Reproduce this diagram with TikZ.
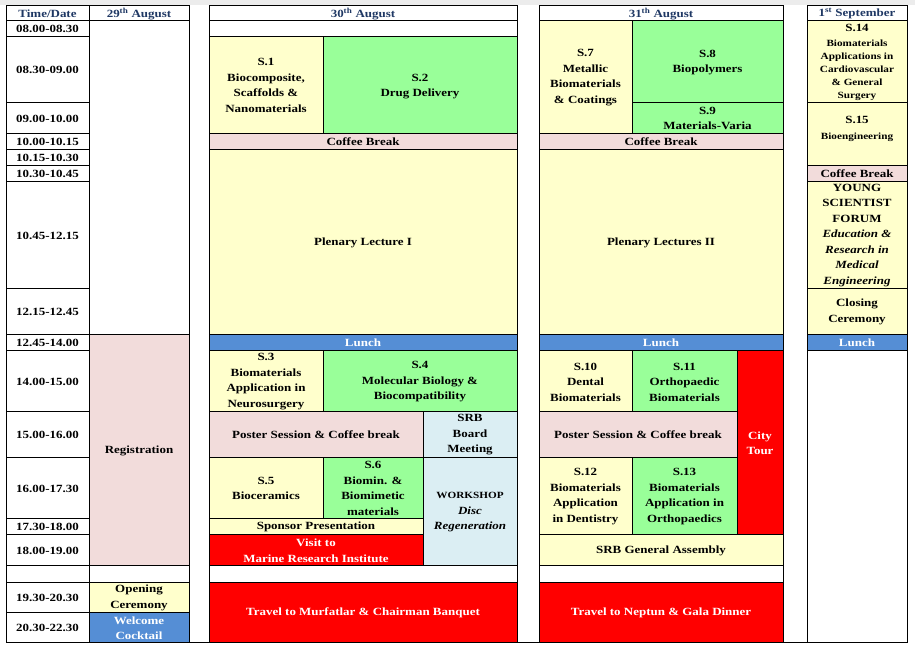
\documentclass[tikz,border=0pt]{standalone}
\usepackage{fontspec}
\setmainfont{Liberation Serif}[FakeStretch=1.18]
\definecolor{sessyellow}{HTML}{FFFFCC}
\definecolor{sessgreen}{HTML}{99FF99}
\definecolor{breakpink}{HTML}{F2DCDB}
\definecolor{lunchblue}{HTML}{558ED5}
\definecolor{eventred}{HTML}{FF0000}
\definecolor{meetblue}{HTML}{DBEEF3}
\definecolor{headnavy}{HTML}{1F3864}
\definecolor{topgray}{HTML}{ECECEC}
\tikzset{
  whitecell/.style={draw=black, line width=0.8pt, fill=white},
  yellowcell/.style={draw=black, line width=0.8pt, fill=sessyellow},
  greencell/.style={draw=black, line width=0.8pt, fill=sessgreen},
  pinkcell/.style={draw=black, line width=0.8pt, fill=breakpink},
  bluecell/.style={draw=black, line width=0.8pt, fill=lunchblue},
  redcell/.style={draw=black, line width=0.8pt, fill=eventred},
  meetcell/.style={draw=black, line width=0.8pt, fill=meetblue},
  txt/.style={font=\bfseries\fontsize{11}{15.5}\selectfont, align=center, inner sep=0pt, yshift=-1pt},
  whitetxt/.style={txt, text=white},
  headtxt/.style={txt, text=headnavy},
}
\newcommand{\smalltxt}{\fontsize{9.5}{13}\selectfont}
\begin{document}
\begin{tikzpicture}[x=1pt, y=-1pt]
\useasboundingbox (0,0) rectangle (915,645);

% Time column
\draw[whitecell] (6,5) rectangle (89,20);
\node[headtxt] (hTime) at (47.5,12.8) {Time/Date};
\draw[whitecell] (6,20) rectangle (89,36);
\node[txt] (t0800) at (47.5,28) {08.00-08.30};
\draw[whitecell] (6,36) rectangle (89,102);
\node[txt] (t0830) at (47.5,69) {08.30-09.00};
\draw[whitecell] (6,102) rectangle (89,133);
\node[txt] (t0900) at (47.5,117.5) {09.00-10.00};
\draw[whitecell] (6,133) rectangle (89,149);
\node[txt] (t1000) at (47.5,141) {10.00-10.15};
\draw[whitecell] (6,149) rectangle (89,165);
\node[txt] (t1015) at (47.5,157) {10.15-10.30};
\draw[whitecell] (6,165) rectangle (89,181);
\node[txt] (t1030) at (47.5,173) {10.30-10.45};
\draw[whitecell] (6,181) rectangle (89,288);
\node[txt] (t1045) at (47.5,234.5) {10.45-12.15};
\draw[whitecell] (6,288) rectangle (89,334);
\node[txt] (t1215) at (47.5,311) {12.15-12.45};
\draw[whitecell] (6,334) rectangle (89,350);
\node[txt] (t1245) at (47.5,342) {12.45-14.00};
\draw[whitecell] (6,350) rectangle (89,411);
\node[txt] (t1400) at (47.5,380.5) {14.00-15.00};
\draw[whitecell] (6,411) rectangle (89,457);
\node[txt] (t1500) at (47.5,434) {15.00-16.00};
\draw[whitecell] (6,457) rectangle (89,518);
\node[txt] (t1600) at (47.5,487.5) {16.00-17.30};
\draw[whitecell] (6,518) rectangle (89,534);
\node[txt] (t1730) at (47.5,526) {17.30-18.00};
\draw[whitecell] (6,534) rectangle (89,565);
\node[txt] (t1800) at (47.5,549.5) {18.00-19.00};
\draw[whitecell] (6,565) rectangle (89,582);
\draw[whitecell] (6,582) rectangle (89,612);
\node[txt] (t1930) at (47.5,597) {19.30-20.30};
\draw[whitecell] (6,612) rectangle (89,642);
\node[txt] (t2030) at (47.5,627) {20.30-22.30};

% 29th August
\draw[whitecell] (89,5) rectangle (189,20);
\node[headtxt] (hAug29) at (139,12.8) {29\textsuperscript{th} August};
\draw[whitecell] (89,20) rectangle (189,334);
\draw[pinkcell] (89,334) rectangle (189,565);
\node[txt] (reg) at (139,449.5) {Registration};
\draw[whitecell] (89,565) rectangle (189,582);
\draw[yellowcell] (89,582) rectangle (189,612);
\node[txt] (opening) at (139,597) {Opening\\Ceremony};
\draw[bluecell] (89,612) rectangle (189,642);
\node[whitetxt] (cocktail) at (139,627) {Welcome\\Cocktail};

% 30th August
\draw[whitecell] (209,5) rectangle (517,20);
\node[headtxt] (hAug30) at (363,12.8) {30\textsuperscript{th} August};
\draw[whitecell] (209,20) rectangle (517,36);
\draw[yellowcell] (209,36) rectangle (323,133);
\node[txt] (s1) at (266,84.5) {S.1\\Biocomposite,\\Scaffolds \&\\Nanomaterials};
\draw[greencell] (323,36) rectangle (517,133);
\node[txt] (s2) at (420,85.5) {S.2\\Drug Delivery};
\draw[pinkcell] (209,133) rectangle (517,149);
\node[txt] (coffeeA) at (363,141) {Coffee Break};
\draw[yellowcell] (209,149) rectangle (517,334);
\node[txt] (plenaryA) at (363,241.5) {Plenary Lecture I};
\draw[bluecell] (209,334) rectangle (517,350);
\node[whitetxt] (lunchA) at (363,342) {Lunch};
\draw[yellowcell] (209,350) rectangle (323,411);
\node[txt] (s3) at (266,380.5) {S.3\\Biomaterials\\Application in\\Neurosurgery};
\draw[greencell] (323,350) rectangle (517,411);
\node[txt] (s4) at (420,381) {S.4\\Molecular Biology \&\\Biocompatibility};
\draw[pinkcell] (209,411) rectangle (423,457);
\node[txt] (posterA) at (316,434) {Poster Session \& Coffee break};
\draw[meetcell] (423,411) rectangle (517,457);
\node[txt] (board) at (470,434) {SRB\\Board\\Meeting};
\draw[yellowcell] (209,457) rectangle (323,518);
\node[txt] (s5) at (266,487.5) {S.5\\Bioceramics};
\draw[greencell] (323,457) rectangle (423,518);
\node[txt] (s6) at (373,487.5) {S.6\\Biomin. \&\\Biomimetic\\materials};
\draw[meetcell] (423,457) rectangle (517,565);
\node[txt] (workshop) at (470,511.5) {{\smalltxt WORKSHOP}\\\itshape Disc\\\itshape Regeneration};
\draw[yellowcell] (209,518) rectangle (423,534);
\node[txt] (sponsor) at (316,526) {Sponsor Presentation};
\draw[redcell] (209,534) rectangle (423,565);
\node[whitetxt] (visit) at (316,549.5) {Visit to\\Marine Research Institute};
\draw[whitecell] (209,565) rectangle (517,582);
\draw[redcell] (209,582) rectangle (517,642);
\node[whitetxt] (banquet) at (363,612) {Travel to Murfatlar \& Chairman Banquet};

% 31th August
\draw[whitecell] (539,5) rectangle (783,20);
\node[headtxt] (hAug31) at (661,12.8) {31\textsuperscript{th} August};
\draw[yellowcell] (539,20) rectangle (632,133);
\node[txt] (s7) at (585.5,76.5) {S.7\\Metallic\\Biomaterials\\\& Coatings};
\draw[greencell] (632,20) rectangle (783,102);
\node[txt] (s8) at (707.5,61.5) {S.8\\Biopolymers};
\draw[greencell] (632,102) rectangle (783,133);
\node[txt] (s9) at (707.5,117.5) {S.9\\Materials-Varia};
\draw[pinkcell] (539,133) rectangle (783,149);
\node[txt] (coffeeB) at (661,141) {Coffee Break};
\draw[yellowcell] (539,149) rectangle (783,334);
\node[txt] (plenaryB) at (661,241.5) {Plenary Lectures II};
\draw[bluecell] (539,334) rectangle (783,350);
\node[whitetxt] (lunchB) at (661,342) {Lunch};
\draw[yellowcell] (539,350) rectangle (632,411);
\node[txt] (s10) at (585.5,381) {S.10\\Dental\\Biomaterials};
\draw[greencell] (632,350) rectangle (737,411);
\node[txt] (s11) at (684.5,381) {S.11\\Orthopaedic\\Biomaterials};
\draw[redcell] (737,350) rectangle (783,534);
\node[whitetxt] (citytour) at (760,442) {City\\Tour};
\draw[pinkcell] (539,411) rectangle (737,457);
\node[txt] (posterB) at (638,434) {Poster Session \& Coffee break};
\draw[yellowcell] (539,457) rectangle (632,534);
\node[txt] (s12) at (585.5,495.5) {S.12\\Biomaterials\\Application\\in Dentistry};
\draw[greencell] (632,457) rectangle (737,534);
\node[txt] (s13) at (684.5,495.5) {S.13\\Biomaterials\\Application in\\Orthopaedics};
\draw[yellowcell] (539,534) rectangle (783,565);
\node[txt] (assembly) at (661,549.5) {SRB General Assembly};
\draw[whitecell] (539,565) rectangle (783,582);
\draw[redcell] (539,582) rectangle (783,642);
\node[whitetxt] (gala) at (661,612) {Travel to Neptun \& Gala Dinner};

% 1st September
\draw[whitecell] (807,5) rectangle (907,20);
\node[headtxt] (hSep1) at (857,12.8) {1\textsuperscript{st} September};
\draw[yellowcell] (807,20) rectangle (907,102);
\node[txt] (s14) at (857,61.5) {S.14\\{\smalltxt Biomaterials}\\[-2.5pt]{\smalltxt Applications in}\\[-2.5pt]{\smalltxt Cardiovascular}\\[-2.5pt]{\smalltxt \& General}\\[-2.5pt]{\smalltxt Surgery}};
\draw[yellowcell] (807,102) rectangle (907,165);
\node[txt] (s15) at (857,128) {S.15\\{\smalltxt Bioengineering}};
\draw[pinkcell] (807,165) rectangle (907,181);
\node[txt] (coffeeC) at (857,173) {Coffee Break};
\draw[yellowcell] (807,181) rectangle (907,288);
\node[txt] (forum) at (857,234.5) {YOUNG\\SCIENTIST\\FORUM\\\itshape Education \&\\\itshape Research in\\\itshape Medical\\\itshape Engineering};
\draw[yellowcell] (807,288) rectangle (907,334);
\node[txt] (closing) at (857,311) {Closing\\Ceremony};
\draw[bluecell] (807,334) rectangle (907,350);
\node[whitetxt] (lunchC) at (857,342) {Lunch};
\draw[whitecell] (807,350) rectangle (907,642);

% bottom rule and top band
\draw[line width=0.8pt] (6,642) -- (907,642);
\fill[topgray] (0,0) rectangle (915,5.4);
\end{tikzpicture}
\end{document}
